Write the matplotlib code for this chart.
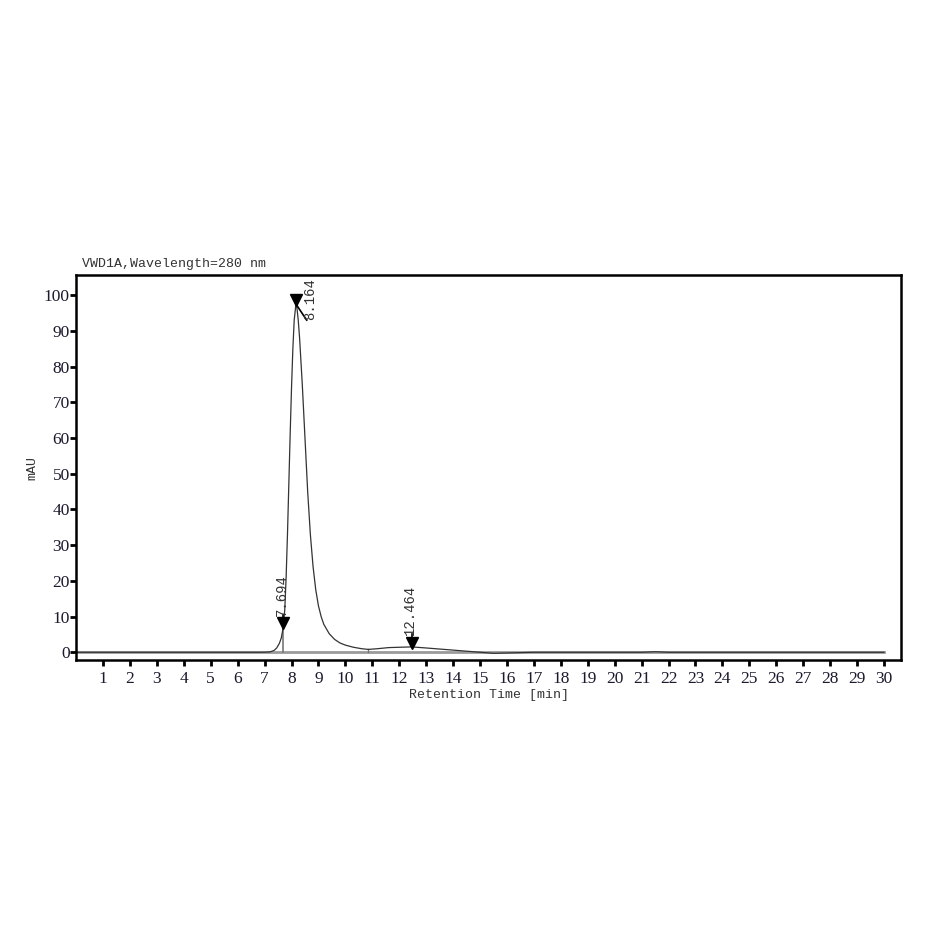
import numpy as np
import matplotlib.pyplot as plt

# chromatogram trace (time in min, signal in mAU)
t = [0.0, 6.8, 7.0, 7.2, 7.35, 7.45, 7.55, 7.62, 7.694, 7.75, 7.8, 7.85, 7.9, 7.95, 8.0,
     8.05, 8.1, 8.164, 8.2, 8.25, 8.3, 8.4, 8.5, 8.6, 8.7, 8.8, 8.9, 9.0, 9.1, 9.2,
     9.4, 9.6, 9.8, 10.0, 10.3, 10.6, 10.85, 11.2, 11.6, 12.0, 12.464, 13.0, 13.5,
     14.0, 14.5, 15.0, 15.5, 16.0, 16.5, 17.0, 21.0, 21.5, 22.0, 30.0]
mau = [0.0, 0.0, 0.02, 0.1, 0.5, 1.2, 2.5, 4.0, 7.0, 12.0, 21.0, 33.0, 47.0, 61.0, 74.0,
       85.0, 93.0, 97.5, 96.5, 93.0, 88.0, 75.0, 60.0, 45.0, 33.0, 24.0, 17.5, 13.0, 10.0, 7.8,
       5.2, 3.6, 2.6, 2.0, 1.4, 1.0, 0.8, 1.0, 1.3, 1.4, 1.5, 1.2, 0.9,
       0.6, 0.3, 0.0, -0.3, -0.2, -0.1, 0.0, 0.0, 0.15, 0.0, 0.0]

peak_rt = [7.694, 8.164, 12.464]
peak_h = [7.0, 97.5, 1.5]
peak_lbl = ["7.694", "8.164", "12.464"]

mono = "Liberation Mono"
serif = "Liberation Serif"

fig = plt.figure(figsize=(9.39, 9.39), dpi=100)
ax = fig.add_axes([0.081, 0.297, 0.8785, 0.41])

# baseline
ax.plot([0, 30], [0, 0], color="#9a9a9a", lw=2.0, zorder=1)
ax.plot(t, mau, color="#333333", lw=0.9, zorder=2)

# peak markers
for rt, h, lb in zip(peak_rt, peak_h, peak_lbl):
    ax.plot(rt, h + 1.2, marker="v", color="black", ms=8, zorder=4)
    if lb == "8.164":
        ax.plot([rt, rt + 0.4], [h, h - 4.5], color="black", lw=1.2)
        ax.text(rt + 0.25, h - 4.5, lb, rotation=90, fontsize=10, family=mono,
                color="#333333", ha="left", va="bottom")
    else:
        ax.plot([rt, rt], [h + 1.2, h + 3.5], color="black", lw=1.2)
        ax.text(rt - 0.05, h + 3.2, lb, rotation=90, fontsize=10, family=mono,
                color="#333333", ha="center", va="bottom")

# integration marks
ax.plot([7.694, 7.694], [0, 7.0], color="#777777", lw=1.2, zorder=1)
ax.plot([10.85, 10.85], [0, 0.8], color="#777777", lw=1.0, zorder=1)

ax.set_xlim(0, 30.63)
ax.set_ylim(-2.2, 105.6)
ax.set_xticks(range(1, 31))
ax.set_yticks(range(0, 101, 10))
ax.tick_params(direction="out", length=4, width=2, labelsize=12.5)
ax.tick_params(axis="x", pad=4)
ax.tick_params(axis="y", pad=0.5)
for lab in ax.get_xticklabels() + ax.get_yticklabels():
    lab.set_family(serif)
    lab.set_color("#1a1a2e")
for s in ax.spines.values():
    s.set_linewidth(1.8)

ax.set_xlabel("Retention Time [min]", family=mono, fontsize=9.5, color="#333333", labelpad=1)
ax.set_ylabel("mAU", family=mono, fontsize=9.5, color="#333333", labelpad=4)
fig.text(0.087, 0.716, "VWD1A,Wavelength=280 nm", family=mono, fontsize=9.5, color="#333333")

fig.savefig("out.png", dpi=100, facecolor="white")
